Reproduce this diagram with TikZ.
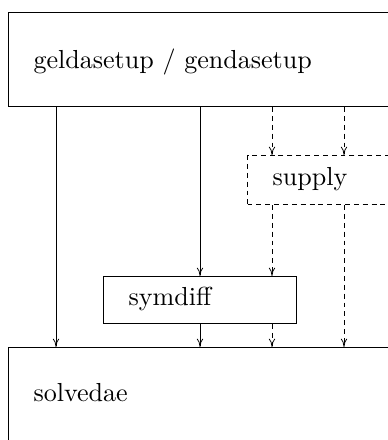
\documentclass[tikz,border=0pt]{standalone}
\usetikzlibrary{arrows.meta}
\newlength\pxu
\setlength\pxu{0.3836pt}
\begin{document}
\begin{tikzpicture}[x=0.3836pt,y=-0.3836pt,
  box/.style={draw, rectangle, inner sep=0pt, anchor=north west},
  lbl/.style={anchor=base west, inner sep=0pt},
  dsh/.style={dash pattern=on 1.9pt off 1.5pt},
  arr/.style={line width=0.3pt, -{To[length=3.2pt,width=2.4pt]}},
  line width=0.4pt]
\clip (0,0) rectangle (388,440);
\useasboundingbox (0,0) rectangle (388,440);
\node[box, minimum width=392\pxu, minimum height=94\pxu] (top) at (8,12) {};
\node[box, dsh, minimum width=153\pxu, minimum height=49\pxu] (supply) at (247,155) {};
\node[box, minimum width=193\pxu, minimum height=47\pxu] (symdiff) at (103,276) {};
\node[box, minimum width=392\pxu, minimum height=113\pxu] (solve) at (8,347) {};
\node[lbl] (ttop) at (33,68) {geldasetup / gendasetup};
\node[lbl] (tsupply) at (272,185) {supply};
\node[lbl] (tsymdiff) at (128,305.5) {symdiff};
\node[lbl] (tsolve) at (33,401.5) {solvedae};
\coordinate (c1) at (56,0);
\coordinate (c2) at (200,0);
\coordinate (c3) at (272,0);
\coordinate (c4) at (344,0);
\draw[arr] (top.south -| c1) -- (solve.north -| c1);
\draw[arr] (top.south -| c2) -- (symdiff.north -| c2);
\draw[arr] (symdiff.south -| c2) -- (solve.north -| c2);
\draw[arr, dsh] (top.south -| c3) -- (supply.north -| c3);
\draw[arr, dsh] (supply.south -| c3) -- (symdiff.north -| c3);
\draw[arr, dsh] (symdiff.south -| c3) -- (solve.north -| c3);
\draw[arr, dsh] (top.south -| c4) -- (supply.north -| c4);
\draw[arr, dsh] (supply.south -| c4) -- (solve.north -| c4);
\end{tikzpicture}
\end{document}
